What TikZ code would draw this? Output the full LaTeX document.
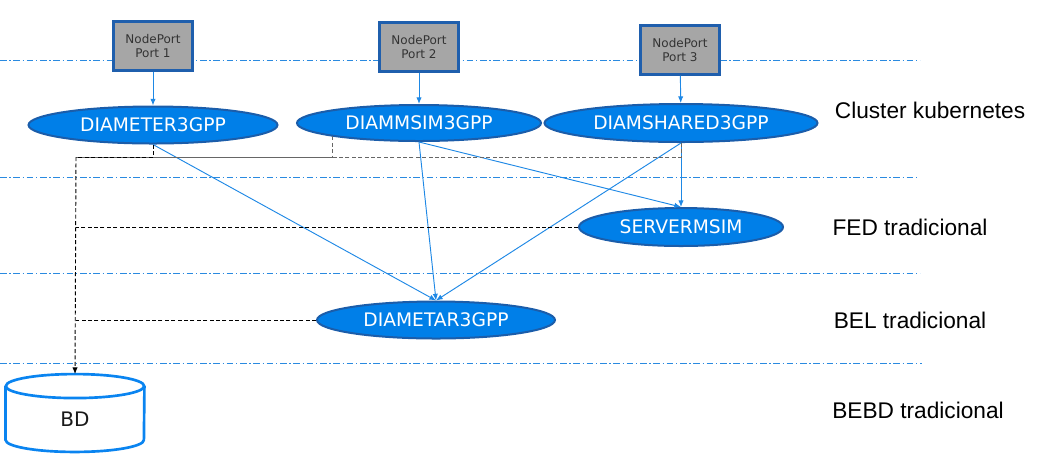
\documentclass[tikz,border=0pt]{standalone}
\usepackage{fontspec}
\setmainfont{Liberation Sans}
\newfontfamily\dvsans{DejaVu Sans}
\usetikzlibrary{shapes.geometric,arrows.meta}
\definecolor{svcblue}{HTML}{007FE8}
\definecolor{svcedge}{HTML}{1B5DAA}
\definecolor{linkblue}{HTML}{1E88E5}
\definecolor{layerblue}{HTML}{2A8AE0}
\definecolor{portgray}{HTML}{A6A6A6}
\definecolor{portedge}{HTML}{1F5FAD}
\definecolor{dbblue}{HTML}{0A84F0}
\tikzset{
  service/.style={ellipse, draw=svcedge, line width=1.5pt, fill=svcblue, text=white,
    font=\dvsans\fontsize{14}{16}\selectfont, inner sep=0pt},
  nodeport/.style={rectangle, draw=portedge, line width=2pt, fill=portgray, text=black!80,
    font=\dvsans\fontsize{9}{11}\selectfont, align=center, minimum width=59pt,
    minimum height=36.5pt, inner sep=0pt},
  layer/.style={layerblue, line width=0.6pt, dash pattern=on 5pt off 2pt on 1pt off 2pt},
  link/.style={linkblue, line width=0.7pt, -{Latex[length=5pt,width=4pt]}},
  dbconn/.style={black, line width=0.7pt, dash pattern=on 3pt off 1.8pt},
  dbbody/.style={rectangle, minimum width=103.75pt, minimum height=58pt, inner sep=0pt},
  dbline/.style={dbblue, line width=2pt},
  tierlabel/.style={font=\fontsize{17}{20}\selectfont, text=black},
}
\begin{document}
\begin{tikzpicture}[x=0.75pt,y=-0.75pt]
  \useasboundingbox (0,0) rectangle (1037,462);
  % layer separators
  \draw[layer] (0,60) -- (920,60);
  \draw[layer] (0,177) -- (918,177);
  \draw[layer] (0,273) -- (920,273);
  \draw[layer] (0,363) -- (922,363);

  % node ports
  \node[nodeport] (port1) at (153,46) {NodePort\\Port 1};
  \node[nodeport] (port2) at (419,47) {NodePort\\Port 2};
  \node[nodeport] (port3) at (680,50) {NodePort\\Port 3};

  % services
  \node[service, minimum width=186.75pt, minimum height=27.75pt] (diameter) at (153,125) {DIAMETER3GPP};
  \node[service, minimum width=183pt, minimum height=27pt] (diammsim) at (419,123) {DIAMMSIM3GPP};
  \node[service, minimum width=204.75pt, minimum height=28.5pt] (diamshared) at (681,123) {DIAMSHARED3GPP};
  \node[service, minimum width=153pt, minimum height=28.5pt] (servermsim) at (681,227) {SERVERMSIM};
  \node[service, minimum width=178.5pt, minimum height=27.75pt] (diametar) at (436,320) {DIAMETAR3GPP};

  % data base
  \node[dbbody] (bd) at (75,413) {};
  \draw[dbline] ([yshift=-9pt]bd.north west) -- ([yshift=9pt]bd.south west)
    arc[start angle=180, end angle=360, x radius=51.875pt, y radius=9pt] -- ([yshift=-9pt]bd.north east);
  \draw[dbline] ([yshift=-9pt]bd.north) ellipse [x radius=51.875pt, y radius=9pt];
  \node[font=\dvsans\fontsize{15}{17}\selectfont, text=black!90] (bdtext) at ([yshift=-4.5pt]bd.center) {BD};

  % tier labels
  \node[tierlabel] (kube) at (930,110) {Cluster kubernetes};
  \node[tierlabel] (fed) at (910,227) {FED tradicional};
  \node[tierlabel] (bel) at (910,320) {BEL tradicional};
  \node[tierlabel] (bebd) at (918,410) {BEBD tradicional};

  % links
  \draw[link] (port1) -- (diameter);
  \draw[link] (port2) -- (diammsim);
  \draw[link] (port3) -- (diamshared);
  \draw[link] (diameter.south) -- (diametar.north);
  \draw[link] (diammsim.south) -- (diametar.north);
  \draw[link] (diammsim.south) -- (servermsim.north);
  \draw[link] (diamshared.south) -- (servermsim.north);
  \draw[link] (diamshared.south) -- (diametar.north);

  % connections to BD
  \coordinate (dbtap) at (76,157);
  \draw[dbconn, black!60] (diamshared.south) |- (dbtap);
  \draw[dbconn, black!60] (diammsim.south west) |- (dbtap);
  \draw[dbconn] (diameter.south) |- (dbtap);
  \draw[dbconn] (servermsim.west) -- (servermsim.west -| dbtap);
  \draw[dbconn] (diametar.west) -- (diametar.west -| dbtap);
  \draw[dbconn, -{Latex[length=5pt,width=4pt]}] (dbtap) -- (bd.north);
\end{tikzpicture}
\end{document}
